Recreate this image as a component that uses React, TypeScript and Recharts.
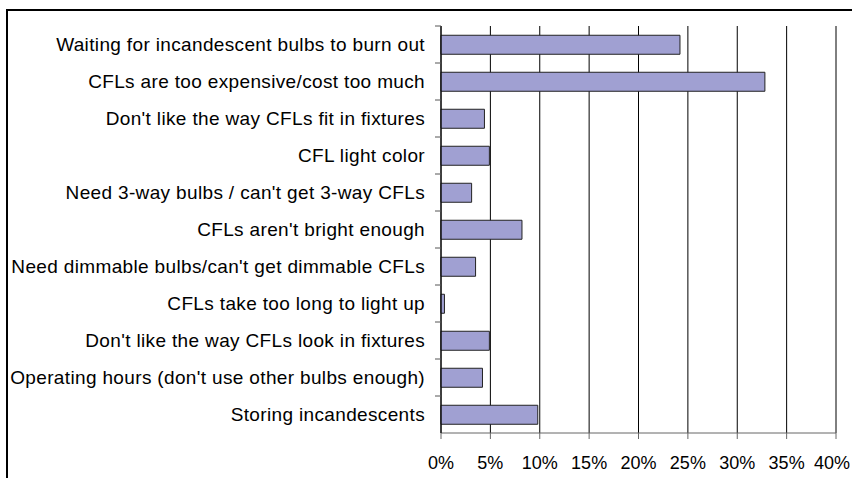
import { BarChart, Bar, XAxis, YAxis, CartesianGrid } from "recharts";

const categories = [
  "Waiting for incandescent bulbs to burn out",
  "CFLs are too expensive/cost too much",
  "Don't like the way CFLs fit in fixtures",
  "CFL light color",
  "Need 3-way bulbs / can't get 3-way CFLs",
  "CFLs aren't bright enough",
  "Need dimmable bulbs/can't get dimmable CFLs",
  "CFLs take too long to light up",
  "Don't like the way CFLs look in fixtures",
  "Operating hours (don't use other bulbs enough)",
  "Storing incandescents",
];

const shares = [0.242, 0.328, 0.044, 0.049, 0.031, 0.082, 0.035, 0.0035, 0.049, 0.042, 0.098];

const xTicks = [0, 0.05, 0.1, 0.15, 0.2, 0.25, 0.3, 0.35, 0.4];

const data = categories.map((label, i) => ({ label, value: shares[i] }));

const FONT = "'Liberation Sans', Arial, sans-serif";

// label at band centre, tick mark at the band's top edge
function CategoryTick(props: any) {
  const { x, y, payload } = props;
  const half = 407 / categories.length / 2;
  return (
    <g>
      <line x1={x + 10} x2={x + 16} y1={y - half} y2={y - half} stroke="#555" />
      <text
        x={x}
        y={y}
        textAnchor="end"
        dominantBaseline="central"
        fontSize={19}
        letterSpacing={0.35}
        fontFamily={FONT}
        fill="#000"
      >
        {payload.value}
      </text>
    </g>
  );
}

function PercentTick(props: any) {
  const { x, y, payload } = props;
  // keep the last label inside the picture
  const shift = payload.value >= 0.4 ? -4 : 0;
  return (
    <text x={x + shift} y={y} dy="0.71em" textAnchor="middle" fontSize={18} fontFamily={FONT} fill="#000">
      {`${Math.round(payload.value * 100)}%`}
    </text>
  );
}

export default function App() {
  return (
    <div style={{ position: "fixed", left: 0, top: 0, width: 852, height: 478, background: "#fff", overflow: "hidden" }}>
      <BarChart
        width={852}
        height={478}
        data={data}
        layout="vertical"
        margin={{ top: 26, right: 16, bottom: 0, left: 0 }}
        barCategoryGap="25%"
        style={{ position: "absolute", left: 0, top: 0 }}
      >
        <CartesianGrid horizontal={false} vertical stroke="#000" />
        <XAxis
          type="number"
          domain={[0, 0.4]}
          ticks={xTicks}
          height={45}
          stroke="#666"
          tickSize={6}
          tick={<PercentTick />}
          tickMargin={17}
          interval={0}
        />
        <XAxis
          xAxisId="top"
          orientation="top"
          type="number"
          domain={[0, 0.4]}
          height={0}
          tick={false}
          tickLine={false}
          stroke="#aaa"
        />
        <YAxis
          type="category"
          dataKey="label"
          width={441}
          stroke="#000"
          tickLine={false}
          tick={<CategoryTick />}
          tickMargin={10}
          interval={0}
        />
        <Bar dataKey="value" fill="#a0a0d2" stroke="#222" strokeWidth={1} isAnimationActive={false} />
      </BarChart>
      {/* outer frame, cropped at right and bottom */}
      <div style={{ position: "absolute", left: 6, top: 9, width: 846, height: 2, background: "#000" }} />
      <div style={{ position: "absolute", left: 6, top: 9, width: 2, height: 469, background: "#000" }} />
    </div>
  );
}
